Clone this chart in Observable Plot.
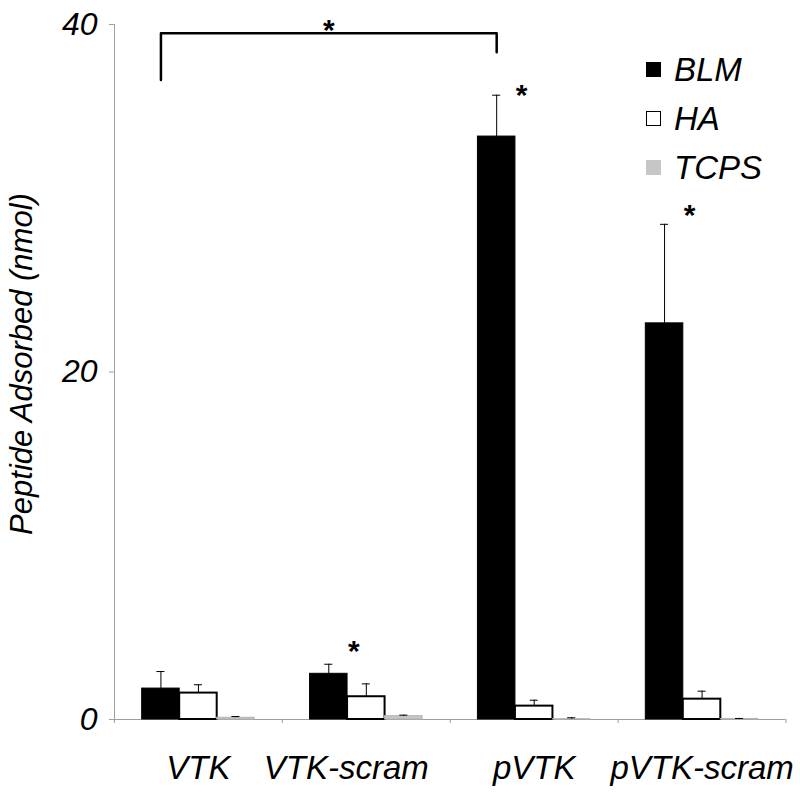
<!DOCTYPE html>
<html>
<head>
<meta charset="utf-8">
<script src="https://cdn.jsdelivr.net/npm/d3@7"></script>
<script src="https://cdn.jsdelivr.net/npm/@observablehq/plot@0.6"></script>
<style>
  body { margin: 0; background: #fff; }
  #wrap { position: relative; width: 800px; height: 792px; }
  #legend { position: absolute; left: 646px; top: 45px; font-family: "Liberation Sans", Arial, sans-serif; font-style: italic; font-size: 33px; color: #000; }
  #legend .row { display: flex; align-items: center; height: 49px; }
  #legend .sw { width: 15px; height: 15px; box-sizing: border-box; margin-right: 13px; }
</style>
</head>
<body>
<div id="wrap"><div id="legend"></div></div>
<script>
// ---- data ----
const groups = ["VTK", "VTK-scram", "pVTK", "pVTK-scram"];
const seriesNames = ["BLM", "HA", "TCPS"];
const blmMean = [1.78, 2.63, 33.55, 22.8];
const blmErr  = [0.98, 0.55, 2.38, 5.7];
const haMean  = [1.52, 1.31, 0.77, 1.17];
const haErr   = [0.48, 0.74, 0.34, 0.46];
const tcpsMean = [0.10, 0.19, 0.02, 0.03];
const tcpsErr  = [0.07, 0.06, 0.08, 0.03];
const yTicks = [0, 20, 40];
const starGroups = ["VTK-scram", "pVTK", "pVTK-scram"];
const starLevels = [4.4, 36.4, 29.5];
const bracketGroups = ["VTK", "pVTK"];
const bracketLevels = [36.8, 39.5, 39.5, 38.4];

// ---- styles ----
const seriesFill = {BLM: "#000000", HA: "#ffffff", TCPS: "#c6c6c6"};
const seriesStroke = {BLM: "#000000", HA: "#000000", TCPS: "#b4b4b4"};
const gray = "#9f9f9f";
const BAR_W = 0.2234;   // bar width in category units
const CAP = 0.024;      // half cap width in category units

// ---- tables built from the arrays ----
const means = [blmMean, haMean, tcpsMean];
const errs = [blmErr, haErr, tcpsErr];
const rows = groups.flatMap((g, gi) => seriesNames.map((s, si) => ({
  group: g, gi, series: s, si, mean: means[si][gi], err: errs[si][gi]
})));
const cx = d => d.gi + (d.si - 1) * BAR_W;
const blmCenter = g => groups.indexOf(g) - BAR_W;
const stars = starGroups.map((g, k) => ({group: g, level: starLevels[k]}));
const bracket = [
  {group: bracketGroups[0], y: bracketLevels[0]},
  {group: bracketGroups[0], y: bracketLevels[1]},
  {group: bracketGroups[1], y: bracketLevels[2]},
  {group: bracketGroups[1], y: bracketLevels[3]}
];
const bracketMid = (blmCenter(bracketGroups[0]) + blmCenter(bracketGroups[1])) / 2;
const boundaries = d3.range(groups.length + 1).map(i => i - 0.5);

const barMarks = seriesNames.map(s => Plot.rectY(rows.filter(d => d.series === s), {
  x1: d => cx(d) - BAR_W / 2,
  x2: d => cx(d) + BAR_W / 2,
  y1: 0,
  y2: "mean",
  fill: seriesFill[s],
  stroke: seriesStroke[s],
  strokeWidth: s === "HA" ? 2 : 1
}));

const font = "'Liberation Sans', Arial, Helvetica, sans-serif";

const chart = Plot.plot({
  width: 800,
  height: 792,
  marginLeft: 114,
  marginRight: 14.5,
  marginTop: 24,
  marginBottom: 73,
  style: {fontFamily: font, fontStyle: "italic", background: "white", overflow: "visible"},
  x: {type: "linear", domain: [-0.5, groups.length - 0.5]},
  y: {domain: [0, 40]},
  marks: [
    // axes lines
    Plot.ruleY([0], {stroke: gray, strokeWidth: 1}),
    Plot.ruleX([-0.5], {y1: 0, y2: 40, stroke: gray, strokeWidth: 1}),
    Plot.axisX({ticks: boundaries, tickSize: 4, tickFormat: () => "", stroke: gray}),
    Plot.axisX({ticks: [0, 2, 3], tickSize: 0, tickPadding: 36, tickFormat: i => groups[i], fontSize: 33, fill: "black", label: null}),
    Plot.axisX({ticks: [1], tickSize: 0, tickPadding: 36, tickFormat: i => groups[i], fontSize: 33, fill: "black", label: null, dx: -20}),
    Plot.axisY({ticks: yTicks, tickSize: 5, tickPadding: 12, fontSize: 32, stroke: gray, fill: "black", label: null}),
    Plot.text(["Peptide Adsorbed (nmol)"], {frameAnchor: "left", textAnchor: "middle", lineAnchor: "middle", rotate: -90, dx: -92, dy: -8, fontSize: 31, fontStyle: "italic", fill: "black"}),
    // bars
    ...barMarks,
    // error bars
    Plot.ruleX(rows, {x: cx, y1: "mean", y2: d => d.mean + d.err, stroke: "black", strokeWidth: 1}),
    Plot.ruleY(rows, {y: d => d.mean + d.err, x1: d => cx(d) - CAP, x2: d => cx(d) + CAP, stroke: "black", strokeWidth: 1}),
    // significance
    Plot.line(bracket, {x: d => blmCenter(d.group), y: "y", stroke: "black", strokeWidth: 2.5, curve: "linear"}),
    Plot.text([bracketLevels[1]], {x: bracketMid, y: d => d, text: () => "*", dy: -3, fontSize: 30, fontWeight: "bold", fontStyle: "normal", fill: "black"}),
    Plot.text(stars, {x: d => blmCenter(d.group), y: "level", text: () => "*", dx: 25, dy: 8, fontSize: 30, fontWeight: "bold", fontStyle: "normal", fill: "black"})
  ]
});

const wrap = document.getElementById("wrap");
wrap.insertBefore(chart, wrap.firstChild);

// legend
const legend = document.getElementById("legend");
seriesNames.forEach(s => {
  const row = document.createElement("div");
  row.className = "row";
  const sw = document.createElement("div");
  sw.className = "sw";
  sw.style.background = seriesFill[s];
  if (s === "HA") sw.style.border = "1.5px solid #000";
  const label = document.createElement("span");
  label.textContent = s;
  row.appendChild(sw);
  row.appendChild(label);
  legend.appendChild(row);
});
</script>
</body>
</html>
